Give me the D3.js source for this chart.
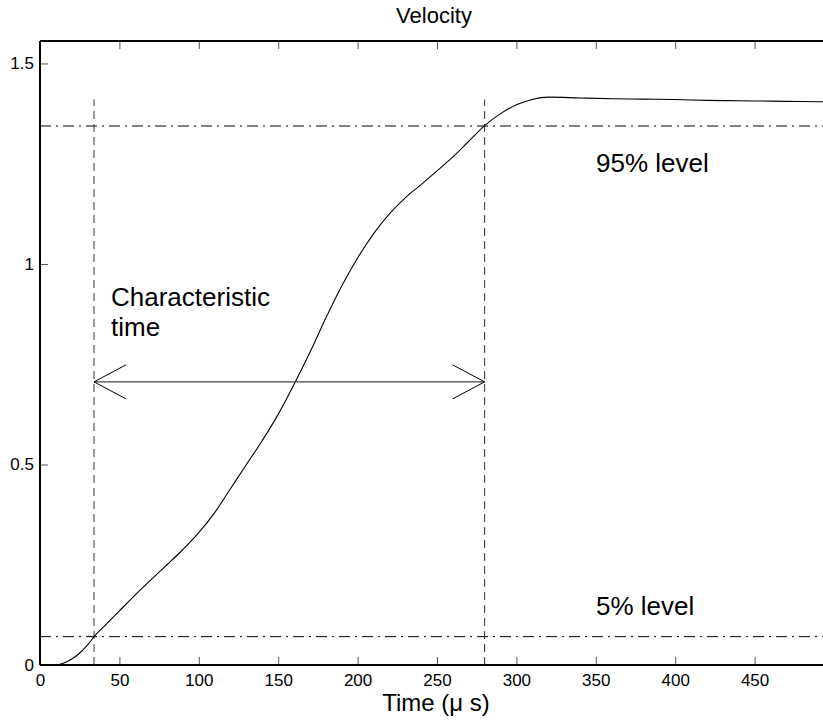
<!DOCTYPE html>
<html>
<head>
<meta charset="utf-8">
<script src="https://cdn.jsdelivr.net/npm/d3@7"></script>
<style>
  html, body { margin: 0; padding: 0; background: #fff; }
  svg { display: block; font-family: "Liberation Sans", Arial, Helvetica, sans-serif; }
</style>
</head>
<body>
<svg id="chart" width="823" height="724"></svg>
<script>
// ---- data ----
const timeUs = [0, 10, 15, 20, 25, 30, 34, 40, 50, 60, 70, 80, 90, 100, 110, 120, 130, 140, 150, 160,
  170, 180, 190, 200, 210, 220, 230, 240, 250, 260, 270, 280, 290, 300, 310, 320, 340, 360, 380, 400,
  420, 440, 460, 480, 500];
const velocity = [0, 0, 0.005, 0.015, 0.03, 0.05, 0.0707, 0.095, 0.135, 0.175, 0.213, 0.25, 0.288, 0.33,
  0.38, 0.44, 0.5, 0.56, 0.625, 0.70, 0.78, 0.865, 0.945, 1.015, 1.075, 1.125, 1.165, 1.198, 1.232, 1.267,
  1.306, 1.345, 1.375, 1.397, 1.41, 1.416, 1.414, 1.412, 1.411, 1.41, 1.408, 1.407, 1.406, 1.405, 1.404];
const xTicks = [0, 50, 100, 150, 200, 250, 300, 350, 400, 450];
const yTicks = [0, 0.5, 1, 1.5];
const levelValues = [0.0707, 1.344];          // 5% and 95% levels
const levelLabels = ["5% level", "95% level"];
const charTimes = [34, 280];                  // characteristic time bounds (µs)
const finalVelocity = 1.41;
const arrowLevel = 0.706;
const titleText = "Velocity";
const xLabelText = "Time (\u03BC s)";
const charLabel = ["Characteristic", "time"];

(function () {
// ---- layout ----
const svg = d3.select("#chart");
const mL = 40, mR = 834, mT = 41, mB = 665;
const x = d3.scaleLinear().domain([0, 500]).range([mL, mR]);
const y = d3.scaleLinear().domain([0, 1.556]).range([mB, mT]);

svg.append("defs").append("clipPath").attr("id", "clip")
  .append("rect").attr("x", mL).attr("y", mT).attr("width", mR - mL).attr("height", mB - mT);

// axes (inward ticks)
const xAxis = d3.axisBottom(x).tickValues(xTicks).tickFormat(d3.format("d"))
  .tickSizeInner(-8).tickSizeOuter(0).tickPadding(9);
const gx = svg.append("g").attr("transform", `translate(0,${mB})`).call(xAxis);
const xTop = d3.axisTop(x).tickValues(xTicks).tickFormat("")
  .tickSizeInner(-8).tickSizeOuter(0);
const gxt = svg.append("g").attr("transform", `translate(0,${mT})`).call(xTop);
const yAxis = d3.axisLeft(y).tickValues(yTicks).tickFormat(d => String(d))
  .tickSizeInner(-8).tickSizeOuter(0).tickPadding(6);
const gy = svg.append("g").attr("transform", `translate(${mL},0)`).call(yAxis);
[gx, gxt, gy].forEach(g => {
  g.select(".domain").remove();
  g.selectAll(".tick line").attr("stroke", "#555").attr("stroke-width", 1);
  g.selectAll(".tick text").attr("fill", "#000").style("font-size", "17px")
    .style("font-family", "'Liberation Sans', Arial, sans-serif");
});

// frame
svg.append("path")
  .attr("d", `M${mL},${mB}H${mR}M${mL},${mT}H${mR}M${mL},${mT}V${mB}`)
  .attr("stroke", "#000").attr("stroke-width", 2).attr("fill", "none");

const plot = svg.append("g").attr("clip-path", "url(#clip)");

// level lines (dash-dot)
plot.selectAll(".level").data(levelValues).enter().append("line")
  .attr("x1", mL).attr("x2", mR)
  .attr("y1", d => y(d)).attr("y2", d => y(d))
  .attr("stroke", "#000").attr("stroke-width", 1)
  .attr("stroke-dasharray", "11,5,2,5");

// characteristic time verticals (dashed)
plot.selectAll(".vt").data(charTimes).enter().append("line")
  .attr("x1", d => x(d)).attr("x2", d => x(d))
  .attr("y1", y(0)).attr("y2", y(finalVelocity))
  .attr("stroke", "#333").attr("stroke-width", 1)
  .attr("stroke-dasharray", "8,5");

// curve
const line = d3.line().x((d, i) => x(timeUs[i])).y(d => y(d)).curve(d3.curveMonotoneX);
plot.append("path").datum(velocity)
  .attr("d", line).attr("fill", "none").attr("stroke", "#000").attr("stroke-width", 1.1);

// arrow
const ay = y(arrowLevel), ax1 = x(charTimes[0]), ax2 = x(charTimes[1]);
plot.append("line").attr("x1", ax1).attr("x2", ax2).attr("y1", ay).attr("y2", ay)
  .attr("stroke", "#444").attr("stroke-width", 1.2);
plot.append("path")
  .attr("d", `M${ax1 + 32},${ay - 17}L${ax1},${ay}L${ax1 + 32},${ay + 17}` +
             `M${ax2 - 32},${ay - 17}L${ax2},${ay}L${ax2 - 32},${ay + 17}`)
  .attr("fill", "none").attr("stroke", "#000").attr("stroke-width", 1);

// texts
svg.append("text").attr("x", 434).attr("y", 23).attr("text-anchor", "middle")
  .style("font-size", "22px").text(titleText);
svg.append("text").attr("x", 436).attr("y", 711).attr("text-anchor", "middle")
  .style("font-size", "24px").text(xLabelText);
svg.selectAll(".ct").data(charLabel).enter().append("text")
  .attr("x", 111).attr("y", (d, i) => 306 + i * 30)
  .style("font-size", "26px").text(d => d);
svg.selectAll(".lvl").data(levelValues).enter().append("text")
  .attr("x", 596).attr("y", (d, i) => y(d) + (i === 0 ? -22 : 46))
  .style("font-size", "26px").text((d, i) => levelLabels[i]);
})();
</script>
</body>
</html>
